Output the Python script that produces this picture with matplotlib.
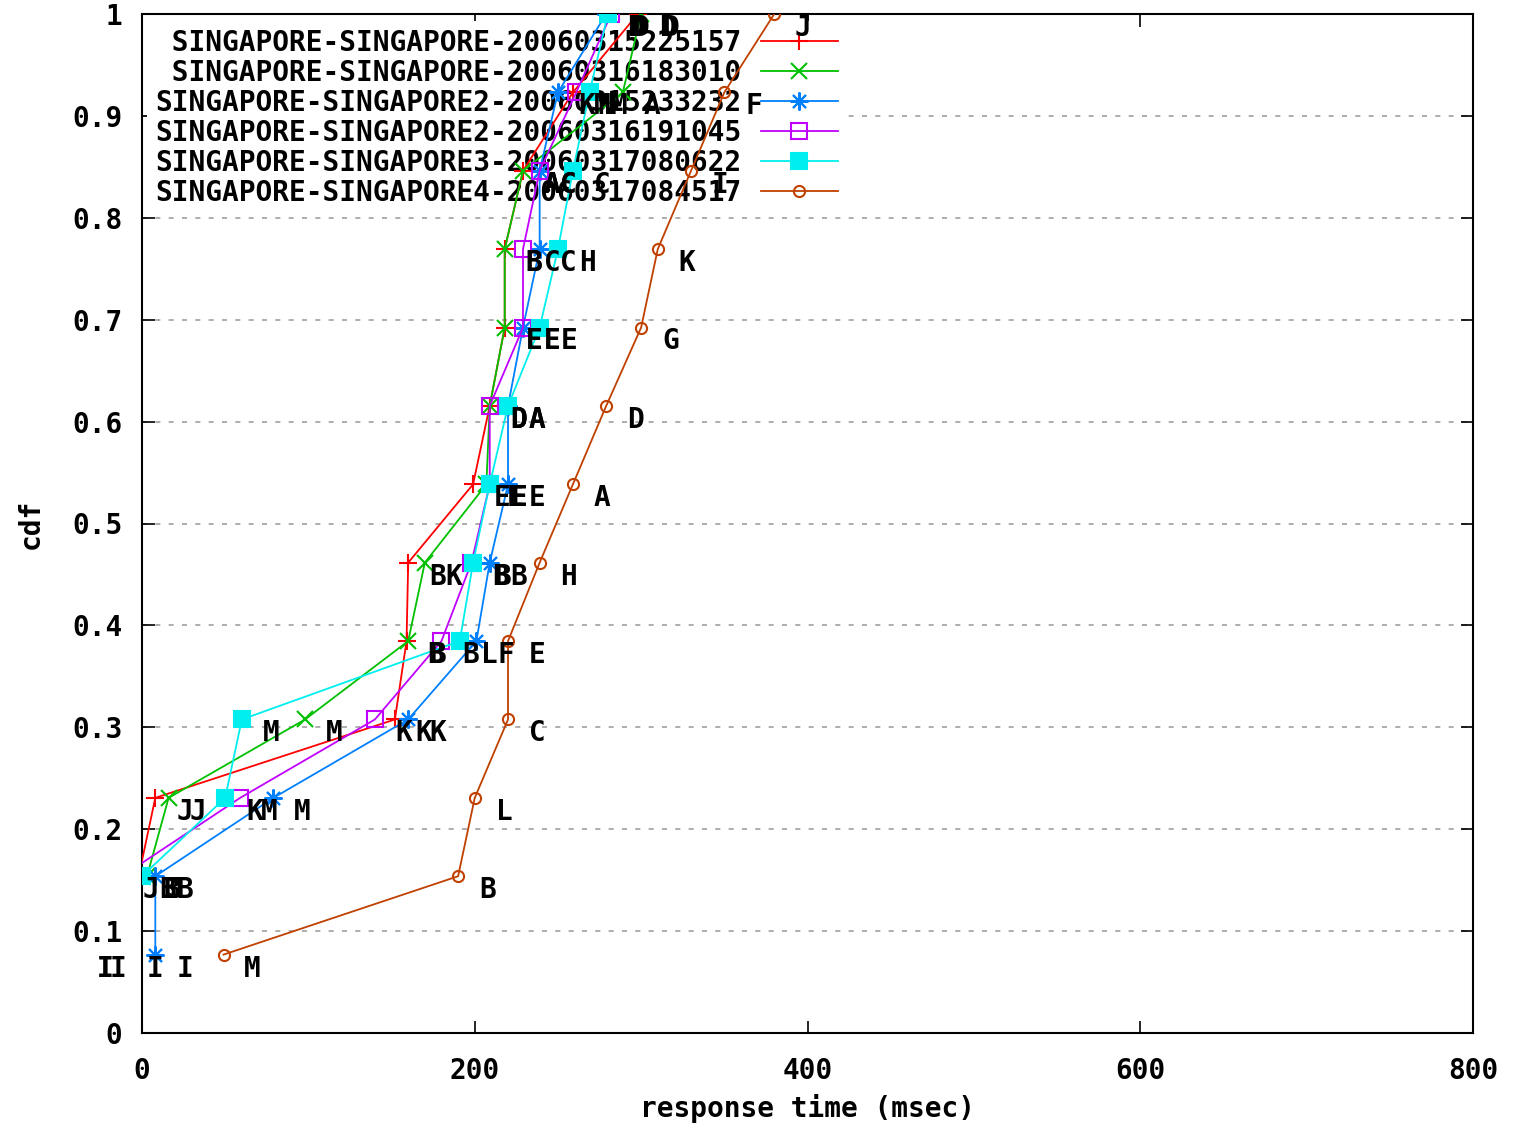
import numpy as np
import matplotlib.pyplot as plt

# cdf levels (13 samples per run)
cdf = [k / 13 for k in range(1, 14)]

names = [
    " SINGAPORE-SINGAPORE-20060315225157",
    " SINGAPORE-SINGAPORE-20060316183010",
    "SINGAPORE-SINGAPORE2-20060315233232",
    "SINGAPORE-SINGAPORE2-20060316191045",
    "SINGAPORE-SINGAPORE3-20060317080622",
    "SINGAPORE-SINGAPORE4-20060317084517",
]

# response times (msec), one list per run
t_sg1_a = [-32, -2, 8, 152, 159, 160, 199, 209, 218, 218, 229, 259, 298]
t_sg1_b = [-40, 3, 16, 98, 160, 170, 207, 209, 218, 218, 229, 289, 300]
t_sg2_a = [8, 8, 79, 160, 201, 209, 220, 220, 229, 239, 239, 250, 279]
t_sg2_b = [-40, -12, 59, 140, 180, 198, 209, 209, 229, 229, 239, 261, 282]
t_sg3 = [-10, 0, 50, 60, 191, 199, 209, 220, 239, 250, 259, 269, 280]
t_sg4 = [49, 190, 200, 220, 220, 239, 259, 279, 300, 310, 330, 350, 380]

# point labels
lab_sg1_a = list("IBJKBBEDEBAMD")
lab_sg1_b = list("IJJMBKEDEBAAD")
lab_sg2_a = list("IBMKFBEAECCKD")
lab_sg2_b = list("IJMKBBEDECCND")
lab_sg3 = list("IBKMLBEAEHCMD")
lab_sg4 = list("MBLCEHADGKIFJ")

series = [t_sg1_a, t_sg1_b, t_sg2_a, t_sg2_b, t_sg3, t_sg4]
labels = [lab_sg1_a, lab_sg1_b, lab_sg2_a, lab_sg2_b, lab_sg3, lab_sg4]

colors = ['#ff0000', '#00c000', '#0080ff', '#c000ff', '#00eeee', '#c04000']
markers = ['+', 'x', (8, 2, 0), 's', 's', 'o']
msizes = [13, 11, 13, 11, 12, 8]
mfaces = [None, None, None, 'none', '#00eeee', 'none']

font = {'family': 'DejaVu Sans Mono', 'weight': 'bold'}
fs = 20

fig = plt.figure(figsize=(15.13, 11.27), dpi=100)
ax = fig.add_axes([142 / 1513, 94 / 1127, 1331 / 1513, 1019 / 1127])

for xs, lbs, c, m, ms, mf, nm in zip(series, labels, colors, markers, msizes, mfaces, names):
    kw = dict(color=c, lw=1.3, marker=m, markersize=ms, markeredgewidth=1.5, label=nm)
    if mf is not None:
        kw['markerfacecolor'] = mf
    ax.plot(xs, cdf, zorder=3, **kw)
    for x, y, s in zip(xs, cdf, lbs):
        ax.annotate(s, (x, y), xytext=(15, -10), textcoords='offset points',
                    ha='left', va='center', fontsize=fs, annotation_clip=False,
                    zorder=4, **font)

ax.set_xlim(0, 800)
ax.set_ylim(0, 1)
ax.set_xticks([0, 200, 400, 600, 800])
ax.set_yticks(np.arange(0, 1.01, 0.1))
ax.set_yticklabels(['0', '0.1', '0.2', '0.3', '0.4', '0.5', '0.6', '0.7', '0.8', '0.9', '1'])
ax.tick_params(direction='in', length=9, width=1.2, top=True, right=True, pad=14)
ax.tick_params(axis='x', pad=17)
for lab in ax.get_xticklabels() + ax.get_yticklabels():
    lab.set_fontfamily('DejaVu Sans Mono')
    lab.set_fontweight('bold')
    lab.set_fontsize(fs)

ax.set_axisbelow(True)
ax.yaxis.grid(True, linestyle=(0, (3, 5)), color='#a0a0a0', lw=1.2)
for sp in ax.spines.values():
    sp.set_linewidth(1.5)

ax.set_xlabel('response time (msec)', fontsize=fs, labelpad=7, **font)
ax.set_ylabel('cdf', fontsize=fs, labelpad=20, **font)

leg = ax.legend(loc='upper left', bbox_to_anchor=(-0.007, 1.007), markerfirst=False,
                handlelength=2.8, labelspacing=0.07, borderpad=0.3, handletextpad=0.7,
                frameon=True, framealpha=1, edgecolor='none', facecolor='white',
                fancybox=False, prop={'family': 'DejaVu Sans Mono', 'weight': 'bold', 'size': fs})
leg.set_zorder(2)

fig.savefig('out.png', dpi=100)
